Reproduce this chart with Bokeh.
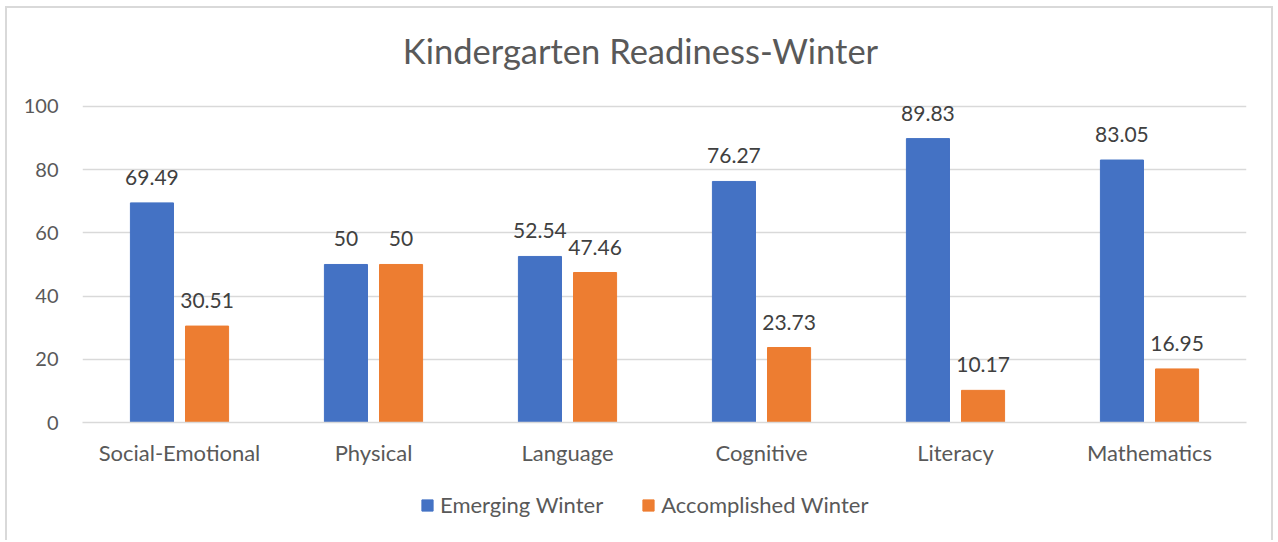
from bokeh.plotting import figure
from bokeh.layouts import column
from bokeh.models import ColumnDataSource, LabelSet, Legend, LegendItem, FactorRange, Range1d
from bokeh.core.properties import value
from bokeh.transform import dodge
from bokeh.embed import file_html
from bokeh.resources import INLINE

title_text = "Kindergarten Readiness-Winter"
categories = ["Social-Emotional", "Physical", "Language", "Cognitive", "Literacy", "Mathematics"]
emerging = [69.49, 50, 52.54, 76.27, 89.83, 83.05]
accomplished = [30.51, 50, 47.46, 23.73, 10.17, 16.95]
series_names = ["Emerging Winter", "Accomplished Winter"]
colors = ["#4472C4", "#ED7D31"]
y_ticks = [0, 20, 40, 60, 80, 100]

def fmt(v):
    return ("%g" % v) if float(v).is_integer() else ("%.2f" % v)

src = ColumnDataSource(dict(
    cat=categories,
    emerging=emerging,
    accomplished=accomplished,
    em_lbl=[fmt(v) for v in emerging],
    ac_lbl=[fmt(v) for v in accomplished],
))

FONT = "Lato"
TXT = "#595959"
BORDER = "2px solid #d9d9d9"

# main chart (frame extends above 100 to hold the title, like the chart area)
p = figure(x_range=FactorRange(*categories), y_range=Range1d(0, 127.2),
           width=1268, height=462, output_backend="svg", toolbar_location=None,
           min_border_left=75, min_border_right=29, min_border_top=12, min_border_bottom=48)
p.styles = {"border-top": BORDER, "border-left": BORDER, "border-right": BORDER}

p.text(x=[len(categories) / 2], y=[117.7], text=[title_text], x_offset=-24,
       text_font=value(FONT), text_font_size="34.5px", text_color=TXT,
       text_align="center", text_baseline="middle")

r1 = p.vbar(x=dodge("cat", -0.142, range=p.x_range), top="emerging", width=0.222,
            source=src, color=colors[0])
r2 = p.vbar(x=dodge("cat", 0.142, range=p.x_range), top="accomplished", width=0.222,
            source=src, color=colors[1])

lbl_style = dict(text_font=value(FONT), text_font_size="21px", text_color="#404040",
                 text_align="center", text_baseline="bottom", y_offset=18)
p.add_layout(LabelSet(x=dodge("cat", -0.142, range=p.x_range), y="emerging", text="em_lbl",
                      source=src, **lbl_style))
p.add_layout(LabelSet(x=dodge("cat", 0.142, range=p.x_range), y="accomplished", text="ac_lbl",
                      source=src, **lbl_style))

p.outline_line_color = None
p.xgrid.grid_line_color = None
p.ygrid.grid_line_color = "#d9d9d9"
p.ygrid.grid_line_width = 1.5
p.yaxis.ticker = y_ticks
p.yaxis.axis_line_color = None
p.yaxis.major_tick_line_color = None
p.yaxis.major_tick_out = 0
p.yaxis.minor_tick_line_color = None
p.yaxis.major_label_text_font = FONT
p.yaxis.major_label_text_font_size = "20px"
p.yaxis.major_label_text_color = TXT
p.yaxis.major_label_standoff = 24
p.xaxis.axis_line_color = "#d9d9d9"
p.xaxis.axis_line_width = 1.5
p.xaxis.major_tick_line_color = None
p.xaxis.major_tick_out = 0
p.xaxis.minor_tick_line_color = None
p.xaxis.major_label_text_font = FONT
p.xaxis.major_label_text_font_size = "22px"
p.xaxis.major_label_text_color = TXT
p.xaxis.major_label_standoff = 16
p.background_fill_color = "white"
p.border_fill_color = "white"

# legend strip
q = figure(x_range=Range1d(0, 1), y_range=Range1d(0, 1), width=1268, height=72,
           output_backend="svg", toolbar_location=None, min_border=0,
           x_axis_location=None, y_axis_location=None)
q.styles = {"border-left": BORDER, "border-right": BORDER}
q.grid.grid_line_color = None
q.outline_line_color = None
q.background_fill_color = "white"
q.border_fill_color = "white"
hidden = ColumnDataSource(dict(x=[-10], top=[-10]))
l1 = q.vbar(x="x", top="top", width=0.1, source=hidden, color=colors[0])
l2 = q.vbar(x="x", top="top", width=0.1, source=hidden, color=colors[1])
legend = Legend(items=[LegendItem(label=series_names[0], renderers=[l1]),
                       LegendItem(label=series_names[1], renderers=[l2])],
                orientation="horizontal", location=(338, 22),
                label_text_font=FONT, label_text_font_size="22px", label_text_color=TXT,
                glyph_width=14, glyph_height=14, spacing=38, label_standoff=6,
                border_line_color=None, background_fill_alpha=0, margin=0, padding=6)
q.add_layout(legend)

layout = column(p, q, spacing=0)
layout.margin = (6, 0, 0, 5)

open("out.html", "w").write(file_html(layout, INLINE))
